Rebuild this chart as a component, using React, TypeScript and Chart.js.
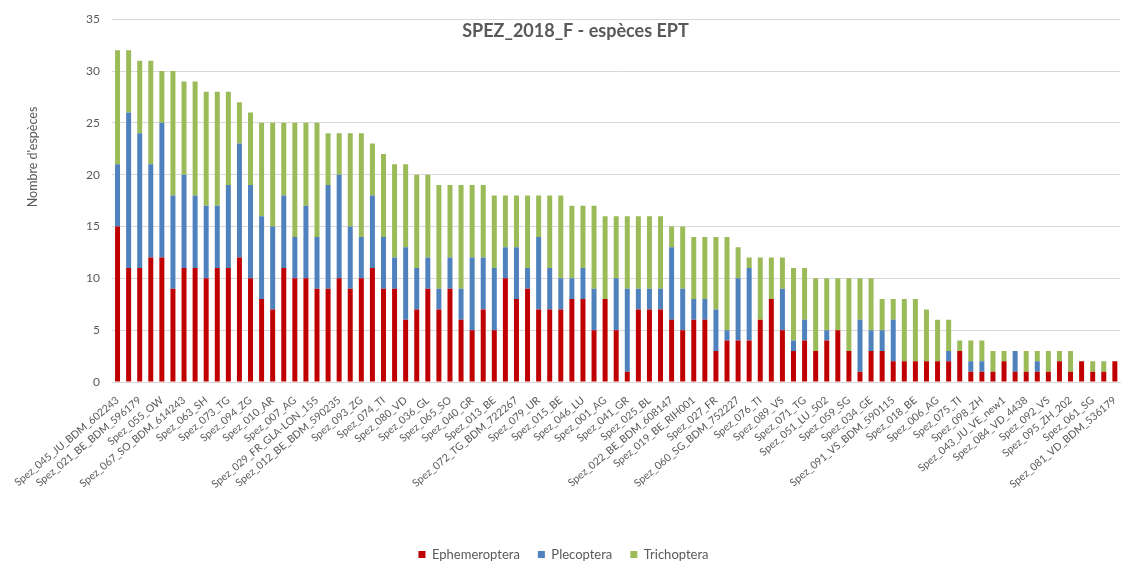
import React, { useEffect, useRef } from "react";
import { Chart, registerables } from "chart.js";

Chart.register(...registerables);

const TITLE = "SPEZ_2018_F - espèces EPT";
const Y_TITLE = "Nombre d'espèces";

// Labels visible on the axis (every other site); hidden sites are unreadable in the source
const siteLabels = [
  "Spez_045_JU_BDM_602243", "Spez_021_BE_BDM_596179", "Spez_055_OW", "Spez_067_SO_BDM_614243",
  "Spez_063_SH", "Spez_073_TG", "Spez_094_ZG", "Spez_010_AR", "Spez_007_AG",
  "Spez_029_FR_GLA-LON_155", "Spez_012_BE_BDM_590235", "Spez_093_ZG", "Spez_074_TI",
  "Spez_080_VD", "Spez_036_GL", "Spez_065_SO", "Spez_040_GR", "Spez_013_BE",
  "Spez_072_TG_BDM_722267", "Spez_079_UR", "Spez_015_BE", "Spez_046_LU", "Spez_001_AG",
  "Spez_041_GR", "Spez_025_BL", "Spez_022_BE_BDM_608147", "Spez_019_BE_RIH001",
  "Spez_027_FR", "Spez_060_SG_BDM_752227", "Spez_076_TI", "Spez_089_VS", "Spez_071_TG",
  "Spez_051_LU_502", "Spez_059_SG", "Spez_034_GE", "Spez_091_VS_BDM_590115", "Spez_018_BE",
  "Spez_006_AG", "Spez_075_TI", "Spez_098_ZH", "Spez_043_JU_VE_new1", "Spez_084_VD_4438",
  "Spez_092_VS", "Spez_095_ZH_202", "Spez_061_SG", "Spez_081_VD_BDM_536179",
];

const ephemeroptera = [
  15, 11, 11, 12, 12, 9, 11, 11, 10, 11, 11, 12, 10, 8, 7, 11, 10, 10, 9, 9,
  10, 9, 10, 11, 9, 9, 6, 7, 9, 7, 9, 6, 5, 7, 5, 10, 8, 9, 7, 7,
  7, 8, 8, 5, 8, 5, 1, 7, 7, 7, 6, 5, 6, 6, 3, 4, 4, 4, 6, 8,
  5, 3, 4, 3, 4, 5, 3, 1, 3, 3, 2, 2, 2, 2, 2, 2, 3, 1, 1, 1,
  2, 1, 1, 1, 1, 2, 1, 2, 1, 1, 2,
];

const plecoptera = [
  6, 15, 13, 9, 13, 9, 9, 7, 7, 6, 8, 11, 9, 8, 8, 7, 4, 7, 5, 10,
  10, 6, 4, 7, 5, 3, 7, 4, 3, 2, 3, 3, 7, 5, 6, 3, 5, 2, 7, 4,
  3, 2, 3, 4, 0, 5, 8, 2, 2, 2, 7, 4, 2, 2, 4, 1, 6, 7, 0, 0,
  4, 1, 2, 0, 1, 0, 0, 5, 2, 2, 4, 0, 0, 0, 0, 1, 0, 1, 1, 0,
  0, 2, 0, 1, 0, 0, 0, 0, 0, 0, 0,
];

const trichoptera = [
  11, 6, 7, 10, 5, 12, 9, 11, 11, 11, 9, 4, 7, 9, 10, 7, 11, 8, 11, 5,
  4, 9, 10, 5, 8, 9, 8, 9, 8, 10, 7, 10, 7, 7, 7, 5, 5, 7, 4, 7,
  8, 7, 6, 8, 8, 6, 7, 7, 7, 7, 2, 6, 6, 6, 7, 9, 3, 1, 6, 4,
  3, 7, 5, 7, 5, 5, 7, 4, 5, 3, 2, 6, 6, 5, 4, 3, 1, 2, 2, 2,
  1, 0, 2, 1, 2, 1, 2, 0, 1, 1, 0,
];

const yTicks = [0, 5, 10, 15, 20, 25, 30, 35];

const categories = ephemeroptera.map((_, i) => (i % 2 === 0 ? siteLabels[i / 2] : ""));

const FONT = "Lato, 'Open Sans', sans-serif";
const TEXT = "#595959";

const overlayText = {
  id: "overlayText",
  afterDraw(chart: any) {
    const ctx = chart.ctx;
    ctx.save();
    ctx.fillStyle = TEXT;
    ctx.textAlign = "center";
    ctx.textBaseline = "middle";
    ctx.font = `bold 18px ${FONT}`;
    ctx.fillText(TITLE, chart.width / 2 + 8, 31);
    ctx.translate(33, 157);
    ctx.rotate(-Math.PI / 2);
    ctx.font = `12.5px ${FONT}`;
    ctx.fillText(Y_TITLE, 0, 0);
    ctx.restore();
  },
};

export default function App() {
  const ref = useRef<HTMLCanvasElement>(null);
  useEffect(() => {
    if (!ref.current) return;
    const chart = new Chart(ref.current, {
      type: "bar",
      data: {
        labels: categories,
        datasets: [
          { label: "Ephemeroptera", data: ephemeroptera, backgroundColor: "#C00000" },
          { label: "Plecoptera", data: plecoptera, backgroundColor: "#4F81BD" },
          { label: "Trichoptera", data: trichoptera, backgroundColor: "#9BBB59" },
        ],
      },
      options: {
        responsive: false,
        animation: false,
        layout: { padding: { top: 17, right: 8, left: 0, bottom: 1 } },
        datasets: { bar: { barPercentage: 0.45, categoryPercentage: 1 } },
        plugins: {
          tooltip: { enabled: false },
          legend: {
            position: "bottom",
            labels: {
              boxWidth: 7,
              boxHeight: 7,
              padding: 18,
              color: TEXT,
              font: { family: FONT, size: 13 },
            },
          },
        },
        scales: {
          x: {
            stacked: true,
            grid: { display: false, drawTicks: false },
            border: { display: true, color: "#D9D9D9" },
            ticks: {
              autoSkip: false,
              minRotation: 40,
              maxRotation: 40,
              padding: 12,
              color: TEXT,
              font: { family: FONT, size: 10.5 },
            },
            afterFit: (s: any) => {
              s.height = 148;
            },
          },
          y: {
            stacked: true,
            min: 0,
            max: 35,
            afterBuildTicks: (s: any) => {
              s.ticks = yTicks.map((v) => ({ value: v }));
            },
            grid: { color: "#D9D9D9", drawTicks: false },
            border: { display: false },
            ticks: {
              padding: 12,
              color: TEXT,
              font: { family: FONT, size: 12 },
            },
            afterFit: (s: any) => {
              s.width = 112;
            },
          },
        },
      },
      plugins: [overlayText],
    });
    return () => chart.destroy();
  }, []);
  return (
    <div style={{ position: "absolute", left: 0, top: 0, width: 1135, height: 572, background: "#fff" }}>
      <canvas ref={ref} width={1135} height={572} />
    </div>
  );
}
